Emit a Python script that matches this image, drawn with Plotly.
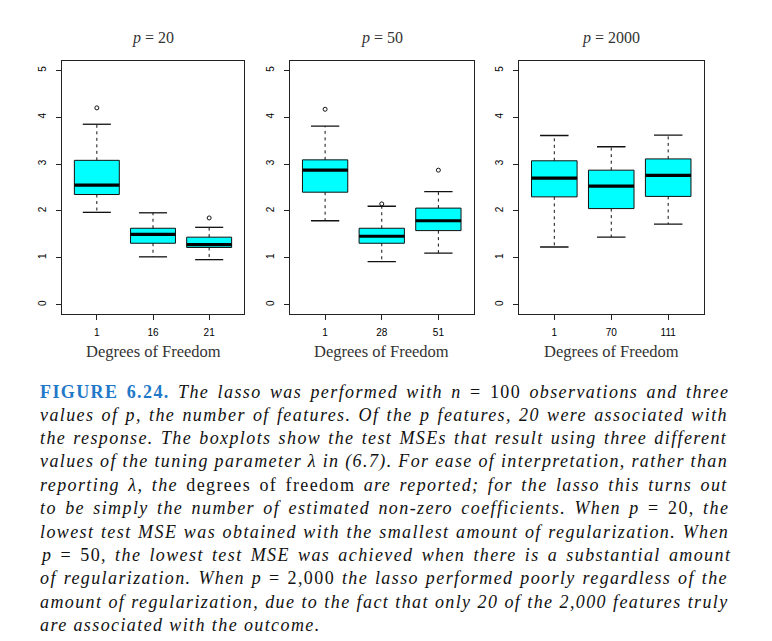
import re
import plotly.graph_objects as go

# ---- data ----
panel_titles = ["<i>p</i> = 20", "<i>p</i> = 50", "<i>p</i> = 2000"]
tick_labels = [["1", "16", "21"], ["1", "28", "51"], ["1", "70", "111"]]
positions = [1, 2, 3]

lower_whisker = [[1.97, 1.02, 0.96], [1.79, 0.92, 1.10], [1.23, 1.44, 1.72]]
q1_vals       = [[2.35, 1.31, 1.22], [2.40, 1.31, 1.58], [2.30, 2.05, 2.31]]
median_vals   = [[2.55, 1.50, 1.28], [2.87, 1.46, 1.79], [2.70, 2.53, 2.76]]
q3_vals       = [[3.08, 1.63, 1.44], [3.09, 1.63, 2.06], [3.07, 2.87, 3.11]]
upper_whisker = [[3.85, 1.96, 1.65], [3.81, 2.10, 2.41], [3.61, 3.37, 3.62]]
outliers_x    = [[1, 3], [1, 2, 3], []]
outliers_y    = [[4.20, 1.85], [4.17, 2.15, 2.87], []]

caption_lines = [
    "<b><span style='color:#1f78c8'>FIGURE 6.24.</span></b> <i>The lasso was performed with n</i> = 100 <i>observations and three</i>",
    "<i>values of p, the number of features. Of the p features, 20 were associated with</i>",
    "<i>the response. The boxplots show the test MSEs that result using three different</i>",
    "<i>values of the tuning parameter λ in (6.7). For ease of interpretation, rather than</i>",
    "<i>reporting λ, the</i> degrees of freedom <i>are reported; for the lasso this turns out</i>",
    "<i>to be simply the number of estimated non-zero coefficients. When p</i> = 20, <i>the</i>",
    "<i>lowest test MSE was obtained with the smallest amount of regularization. When</i>",
    "<i>p</i> = 50, <i>the lowest test MSE was achieved when there is a substantial amount</i>",
    "<i>of regularization. When p</i> = 2,000 <i>the lasso performed poorly regardless of the</i>",
    "<i>amount of regularization, due to the fact that only 20 of the 2,000 features truly</i>",
    "<i>are associated with the outcome.</i>",
]

# ---- approximate glyph advance widths (Times metrics, per 1000 em) for justification ----
ITALIC_W = dict(zip("abcdefghijklmnopqrstuvwxyz",
                    [500, 500, 444, 500, 444, 278, 500, 500, 278, 278, 444, 278, 722,
                     500, 500, 500, 500, 389, 389, 278, 500, 444, 667, 444, 444, 389]))
ITALIC_W.update(dict(zip("ABCDEFGHIJKLMNOPQRSTUVWXYZ",
                         [611, 611, 667, 722, 611, 611, 722, 722, 333, 444, 667, 556, 833,
                          667, 722, 611, 722, 611, 500, 556, 722, 611, 833, 611, 556, 556])))
ROMAN_W = dict(zip("abcdefghijklmnopqrstuvwxyz",
                   [444, 500, 444, 500, 444, 333, 500, 500, 278, 278, 500, 278, 778,
                    500, 500, 500, 500, 333, 389, 278, 500, 500, 722, 500, 500, 444]))
BOLD_W = {"F": 611, "I": 389, "G": 778, "U": 722, "R": 722, "E": 667}
COMMON_W = {" ": 250, ".": 250, ",": 250, "(": 333, ")": 333, "-": 333, ";": 278,
            "λ": 500}
for d in "0123456789":
    COMMON_W[d] = 500


def natural_width(markup, size):
    italic = bold = 0
    total = 0.0
    nchars = 0
    nspaces = 0
    for tok in re.split(r"(<[^>]+>)", markup):
        if tok.startswith("<"):
            t = tok.lower()
            if t.startswith("<i"):
                italic += 1
            elif t.startswith("</i"):
                italic -= 1
            elif t.startswith("<b"):
                bold += 1
            elif t.startswith("</b"):
                bold -= 1
            continue
        for ch in tok:
            nchars += 1
            if ch == " ":
                nspaces += 1
            if ch == "=":
                w = 564 if not italic else 675
            elif ch in COMMON_W:
                w = COMMON_W[ch]
            elif bold and ch in BOLD_W:
                w = BOLD_W[ch]
            elif italic:
                w = ITALIC_W.get(ch, 500)
            else:
                w = ROMAN_W.get(ch, ITALIC_W.get(ch, 500))
            total += w * size / 1000.0
    return total, nchars, nspaces


# ---- layout geometry ----
W, H = 772, 641
x_domains_px = [(62, 244), (290, 473.5), (519, 703.5)]
y_top_px, y_bot_px = 61, 314
BOX_W = 0.8
CAP_HALF = 0.25
CAP_SIZE = 18
LETTER_SP = 1.4
CAP_LEFT, CAP_RIGHT = 38, 728

fig = go.Figure()

for i in range(3):
    xa = "x" if i == 0 else f"x{i+1}"
    ya = "y" if i == 0 else f"y{i+1}"
    fig.add_trace(go.Box(
        x=positions, q1=q1_vals[i], median=median_vals[i], q3=q3_vals[i],
        lowerfence=q1_vals[i], upperfence=q3_vals[i],
        width=BOX_W, whiskerwidth=0,
        fillcolor="#00ffff", line=dict(color="#111111", width=1),
        boxpoints=False, hoverinfo="skip", showlegend=False,
        xaxis=xa, yaxis=ya,
    ))
    wx, wy, cx, cy, mx, my = [], [], [], [], [], []
    for j, p in enumerate(positions):
        wx += [p, p, None, p, p, None]
        wy += [q3_vals[i][j], upper_whisker[i][j], None, q1_vals[i][j], lower_whisker[i][j], None]
        cx += [p - CAP_HALF, p + CAP_HALF, None, p - CAP_HALF, p + CAP_HALF, None]
        cy += [upper_whisker[i][j]] * 2 + [None] + [lower_whisker[i][j]] * 2 + [None]
        mx += [p - BOX_W / 2, p + BOX_W / 2, None]
        my += [median_vals[i][j]] * 2 + [None]
    fig.add_trace(go.Scatter(x=wx, y=wy, mode="lines",
                             line=dict(color="#111111", width=1, dash="3px,3.5px"),
                             showlegend=False, hoverinfo="skip", xaxis=xa, yaxis=ya))
    fig.add_trace(go.Scatter(x=cx, y=cy, mode="lines",
                             line=dict(color="#111111", width=1.3),
                             showlegend=False, hoverinfo="skip", xaxis=xa, yaxis=ya))
    fig.add_trace(go.Scatter(x=mx, y=my, mode="lines",
                             line=dict(color="#000000", width=3.2),
                             showlegend=False, hoverinfo="skip", xaxis=xa, yaxis=ya))
    if outliers_x[i]:
        fig.add_trace(go.Scatter(x=outliers_x[i], y=outliers_y[i], mode="markers",
                                 marker=dict(symbol="circle-open", size=4,
                                             color="#111111", line=dict(width=1)),
                                 showlegend=False, hoverinfo="skip", xaxis=xa, yaxis=ya))

    x0, x1 = x_domains_px[i]
    axis_common = dict(showline=True, mirror=True, linecolor="#222222", linewidth=1,
                       showgrid=False, zeroline=False, ticks="outside",
                       tickcolor="#222222", ticklen=5, tickwidth=1,
                       tickfont=dict(family="Liberation Sans, Arial, sans-serif",
                                     size=10, color="#000000"))
    fig.layout[("xaxis" if i == 0 else f"xaxis{i+1}")] = dict(
        domain=[x0 / W, x1 / W], anchor=ya, range=[0.38, 3.62],
        tickmode="array", tickvals=positions, ticktext=tick_labels[i],
        ticklabelstandoff=4, **axis_common)
    fig.layout[("yaxis" if i == 0 else f"yaxis{i+1}")] = dict(
        domain=[1 - y_bot_px / H, 1 - y_top_px / H], anchor=xa, range=[-0.2, 5.2],
        tickmode="array", tickvals=[0, 1, 2, 3, 4, 5],
        ticktext=["0", "1", "2", "3", "4", "5"], tickangle=-90,
        ticklabelstandoff=6, **axis_common)

    cxp = (x0 + x1) / 2
    fig.add_annotation(text=panel_titles[i], x=cxp / W, y=1 - 38 / H,
                       xref="paper", yref="paper", showarrow=False,
                       xanchor="center", yanchor="middle",
                       font=dict(family="Liberation Serif, Times New Roman, serif",
                                 size=16, color="#333333"))
    fig.add_annotation(text="Degrees of Freedom", x=cxp / W, y=1 - 351.5 / H,
                       xref="paper", yref="paper", showarrow=False,
                       xanchor="center", yanchor="middle",
                       font=dict(family="Liberation Serif, Times New Roman, serif",
                                 size=16.5, color="#333333"))

for k, line in enumerate(caption_lines):
    y_px = 391.7 + k * 23.33
    nat, nch, nsp = natural_width(line, CAP_SIZE)
    if k < len(caption_lines) - 1 and nsp > 0:
        ws = (CAP_RIGHT - CAP_LEFT - nat - LETTER_SP * nch) / nsp
    else:
        ws = 0
    styled = f"<span style='letter-spacing:{LETTER_SP}px;word-spacing:{ws:.2f}px'>{line}</span>"
    fig.add_annotation(text=styled, x=CAP_LEFT / W, y=1 - y_px / H,
                       xref="paper", yref="paper", showarrow=False,
                       xanchor="left", yanchor="middle",
                       font=dict(family="Liberation Serif, Times New Roman, serif",
                                 size=CAP_SIZE, color="#111111"))

fig.update_layout(width=W, height=H, margin=dict(l=0, r=0, t=0, b=0),
                  paper_bgcolor="white", plot_bgcolor="white", showlegend=False)

fig.write_html("out.html")
